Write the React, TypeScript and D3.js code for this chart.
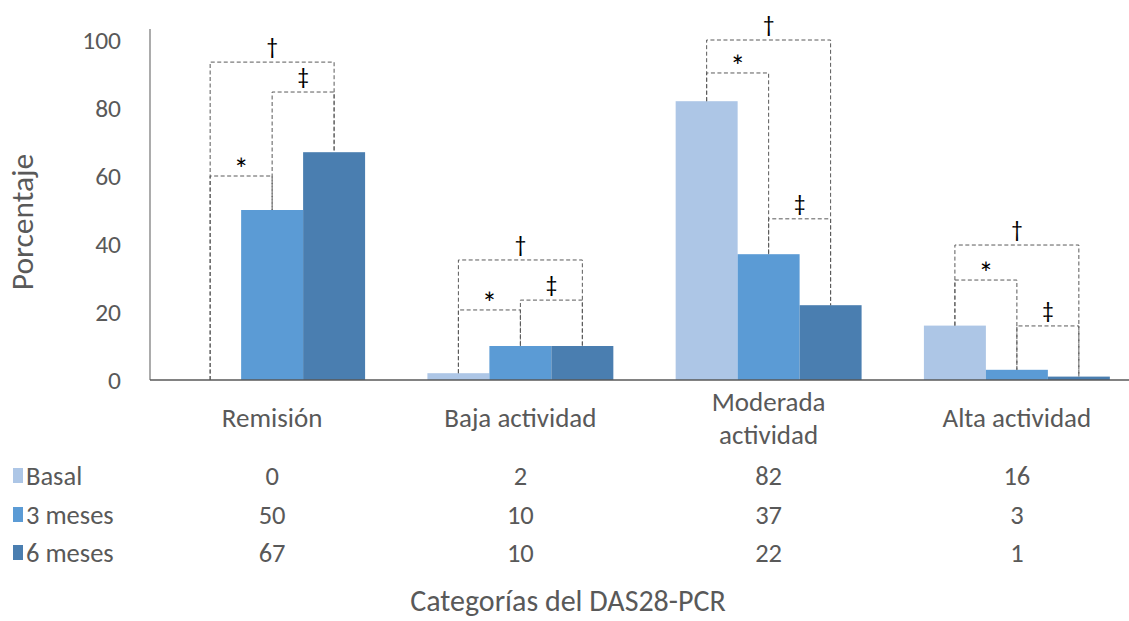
import React from "react";
import * as d3 from "d3";

const categories = ["Remisión", "Baja actividad", "Moderada actividad", "Alta actividad"];
const categoryLines = [["Remisión"], ["Baja actividad"], ["Moderada", "actividad"], ["Alta actividad"]];
const seriesNames = ["Basal", "3 meses", "6 meses"];
const basal = [0, 2, 82, 16];
const tres = [50, 10, 37, 3];
const seis = [67, 10, 22, 1];
const yTicks = [0, 20, 40, 60, 80, 100];
// brackets: category index, from series, to series, level (%), symbol
const bracketCat = [0, 0, 0, 1, 1, 1, 2, 2, 2, 3, 3, 3];
const bracketFrom = [0, 0, 1, 0, 0, 1, 0, 0, 1, 0, 0, 1];
const bracketTo = [2, 1, 2, 2, 1, 2, 2, 1, 2, 2, 1, 2];
const bracketLevel = [93.5, 60, 84.7, 35.3, 20.6, 23.5, 100, 90.3, 47.4, 39.7, 29.4, 15.9];
const bracketSymbol = ["†", "*", "‡", "†", "*", "‡", "†", "*", "‡", "†", "*", "‡"];

const colors = ["#ADC6E6", "#5B9BD5", "#4A7EB0"];
const FONT = "Carlito, 'Liberation Sans Narrow', 'DejaVu Sans Condensed', sans-serif";
const TXT = "#595959";

export default function App() {
  const W = 1129, H = 621;
  const series = [basal, tres, seis];
  const x = d3.scaleBand<string>().domain(categories).range([148, 1141]).paddingInner(0.251).paddingOuter(0.1255);
  const inner = d3.scaleBand<string>().domain(seriesNames).range([0, x.bandwidth()]);
  const y = d3.scaleLinear().domain([0, 100]).range([380, 40]);
  const barCenter = (c: number, s: number) => (x(categories[c]) as number) + (inner(seriesNames[s]) as number) + inner.bandwidth() / 2;
  const rowY = [476, 515, 553];

  return (
    <svg width={W} height={H} style={{ position: "absolute", left: 0, top: 0, background: "#fff" }} fontFamily={FONT}>
      {/* bars */}
      {series.map((vals, s) =>
        vals.map((v, c) => (
          <rect key={`b${s}-${c}`} x={(x(categories[c]) as number) + (inner(seriesNames[s]) as number)} y={y(v)}
            width={inner.bandwidth()} height={y(0) - y(v)} fill={colors[s]} />
        ))
      )}
      {/* axes */}
      <line x1={150} x2={150} y1={29} y2={380} stroke="#7f7f7f" strokeWidth={1.3} />
      <line x1={150} x2={W} y1={380} y2={380} stroke="#595959" strokeWidth={1.5} />
      {yTicks.map((t) => (
        <text key={t} x={121} y={y(t)} dy="0.35em" textAnchor="end" fontSize={25.5} fill={TXT}>{t}</text>
      ))}
      <text transform="translate(33,222) rotate(-90)" textAnchor="middle" fontSize={31.5} fill={TXT}>Porcentaje</text>
      {/* brackets */}
      {bracketCat.map((c, i) => {
        const x1 = barCenter(c, bracketFrom[i]);
        const x2 = barCenter(c, bracketTo[i]);
        const yl = y(bracketLevel[i]);
        const y1 = y(series[bracketFrom[i]][c]);
        const y2 = y(series[bracketTo[i]][c]);
        const p = d3.path();
        p.moveTo(x1, y1); p.lineTo(x1, yl); p.lineTo(x2, yl); p.lineTo(x2, y2);
        const sym = bracketSymbol[i];
        return (
          <g key={`br${i}`}>
            <path d={p.toString()} fill="none" stroke="#595959" strokeWidth={1} strokeDasharray="4,2.5" />
            <text x={(x1 + x2) / 2} y={sym === "*" ? yl + 4 : yl - 8} textAnchor="middle"
              fontSize={sym === "*" ? 30 : 23} fill="#000">{sym}</text>
          </g>
        );
      })}
      {/* category labels */}
      {categoryLines.map((lines, c) => {
        const cx = (x(categories[c]) as number) + x.bandwidth() / 2;
        const y0 = lines.length === 1 ? 418 : 402;
        return lines.map((ln, k) => (
          <text key={`c${c}-${k}`} x={cx} y={y0 + k * 33} dy="0.35em" textAnchor="middle" fontSize={27} fill={TXT}>{ln}</text>
        ));
      })}
      {/* data table */}
      {seriesNames.map((name, s) => (
        <g key={`row${s}`}>
          <rect x={13} y={rowY[s] - 8} width={10} height={15} fill={colors[s]} />
          <text x={26} y={rowY[s]} dy="0.35em" fontSize={26.5} fill={TXT}>{name}</text>
          {series[s].map((v, c) => (
            <text key={`v${s}-${c}`} x={(x(categories[c]) as number) + x.bandwidth() / 2} y={rowY[s]} dy="0.35em"
              textAnchor="middle" fontSize={26.5} fill={TXT}>{v}</text>
          ))}
        </g>
      ))}
      <text x={568} y={600} dy="0.35em" textAnchor="middle" fontSize={30} fill={TXT}>Categorías del DAS28-PCR</text>
    </svg>
  );
}
